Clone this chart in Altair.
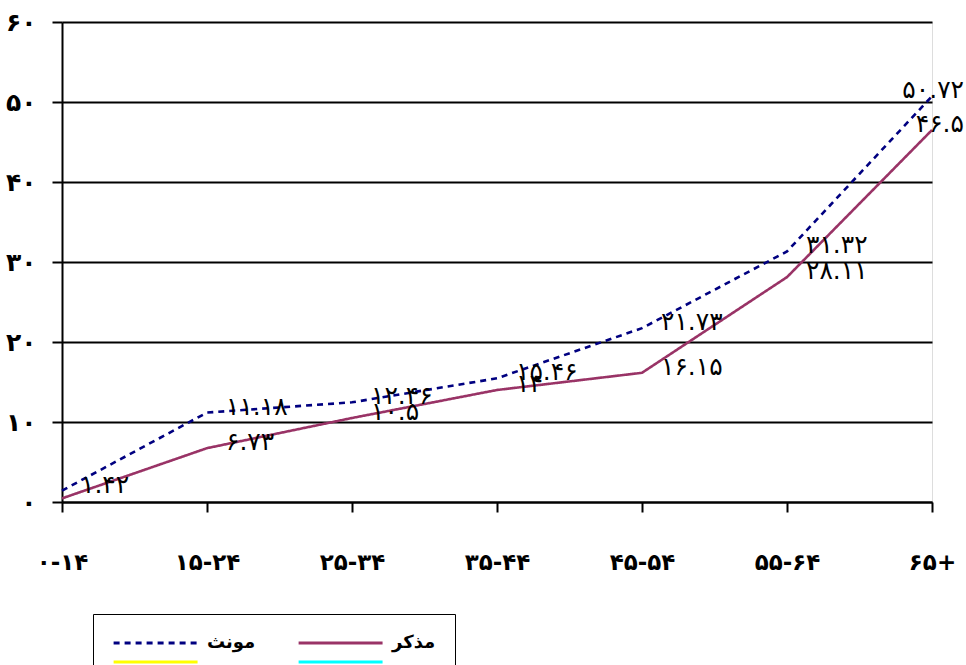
import json
import altair as alt
import pandas as pd

# Age groups (Persian digits) and percentages per series
groups = ["۰-۱۴", "۱۵-۲۴", "۲۵-۳۴", "۳۵-۴۴", "۴۵-۵۴", "۵۵-۶۴", "۶۵+"]
female = [1.42, 11.18, 12.46, 15.46, 21.73, 31.32, 50.72]
male = [0.45, 6.73, 10.5, 14, 16.15, 28.11, 46.5]
male_labelled = [False, True, True, True, True, True, True]

female_name = "مونث"
male_name = "مذکر"

# Legend entries (the last two carry no data)
legend_names = [female_name, male_name, " ", "  "]
legend_colors = ["#000080", "#993366", "#FFFF00", "#00FFFF"]
legend_dashes = [[6, 5], [1, 0], [1, 0], [1, 0]]

y_tick_values = [0, 10, 20, 30, 40, 50, 60]
y_tick_labels = ["۰", "۱۰", "۲۰", "۳۰", "۴۰", "۵۰", "۶۰"]

FONT = "DejaVu Sans"
PERSIAN = str.maketrans("0123456789", "۰۱۲۳۴۵۶۷۸۹")


def fa(v):
    return f"{v:g}".translate(PERSIAN)


rows = []
for g, v in zip(groups, female):
    rows.append({"group": g, "value": v, "series": female_name, "label": fa(v)})
for g, v, show in zip(groups, male, male_labelled):
    rows.append({"group": g, "value": v, "series": male_name, "label": fa(v) if show else ""})
df = pd.DataFrame(rows)

x_enc = alt.X(
    "group:N",
    sort=groups,
    scale=alt.Scale(type="point", padding=0),
    axis=alt.Axis(
        title=None,
        labelAngle=0,
        labelFont=FONT,
        labelFontSize=23,
        labelFontWeight="bold",
        labelColor="black",
        labelPadding=39,
        tickSize=10,
        tickWidth=2,
        tickColor="black",
        domainColor="black",
        domainWidth=2,
        grid=False,
    ),
)
y_enc = alt.Y(
    "value:Q",
    scale=alt.Scale(domain=[0, 60], nice=False),
    axis=alt.Axis(
        title=None,
        values=y_tick_values,
        labelExpr=json.dumps(y_tick_labels, ensure_ascii=False) + "[round(datum.value / 10)]",
        labelFont=FONT,
        labelFontSize=25,
        labelFontWeight="bold",
        labelColor="black",
        labelPadding=16,
        tickSize=10,
        tickWidth=2,
        tickColor="black",
        domainColor="black",
        domainWidth=2,
        grid=True,
        gridColor="black",
        gridWidth=2,
        gridOpacity=1,
    ),
)

# Legend line symbol: a horizontal stroke drawn to the right of the entry origin
legend_line = "M-1,0H9"

lines = alt.Chart(df).mark_line(strokeWidth=2.6).encode(
    x=x_enc,
    y=y_enc,
    color=alt.Color(
        "series:N",
        scale=alt.Scale(domain=legend_names, range=legend_colors),
        legend=alt.Legend(
            title=None,
            orient="none",
            legendX=31,
            legendY=592,
            direction="horizontal",
            columns=2,
            symbolType=legend_line,
            symbolSize=282,
            symbolStrokeWidth=3,
            labelFont=FONT,
            labelFontSize=18,
            labelFontWeight="bold",
            labelColor="black",
            labelOffset=75,
            columnPadding=36,
            rowPadding=0,
            padding=19,
            strokeColor="black",
        ),
    ),
    strokeDash=alt.StrokeDash(
        "series:N",
        scale=alt.Scale(domain=legend_names, range=legend_dashes),
        legend=None,
    ),
)

label_style = dict(font=FONT, fontSize=25, color="black", baseline="middle", dy=-6)

labels_mid = alt.Chart(df).mark_text(align="left", dx=19, **label_style).encode(
    x=alt.X("group:N", sort=groups), y="value:Q", text="label:N"
).transform_filter(f"datum.group != '{groups[-1]}' && datum.label != ''")

labels_end = alt.Chart(df).mark_text(align="right", dx=32, **label_style).encode(
    x=alt.X("group:N", sort=groups), y="value:Q", text="label:N"
).transform_filter(f"datum.group == '{groups[-1]}'")

chart = (
    alt.layer(lines, labels_mid, labels_end)
    .properties(
        width=870,
        height=480,
        autosize=alt.AutoSizeParams(type="none"),
        padding={"left": 62, "top": 22, "right": 34, "bottom": 200},
    )
    .configure_view(stroke="black", strokeWidth=2)
    .configure_legend(strokeWidth=2)
    .configure(background="white")
)

chart.save("out.html", embed_options={"renderer": "svg", "actions": False})
